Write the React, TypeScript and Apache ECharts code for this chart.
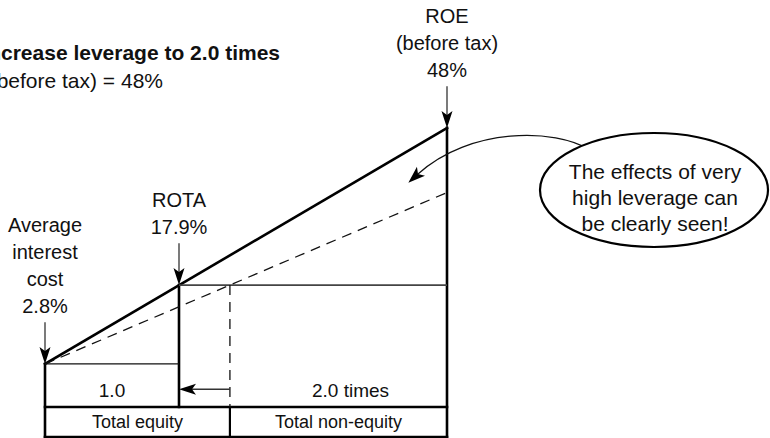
import React, { useEffect, useRef } from "react";
import * as echarts from "echarts";

// ---------- data ----------
const interestCost = 2.8; // % average interest cost
const rota = 17.9; // % return on total assets
const roeBeforeTax = 48; // % ROE before tax
const equityMultiple = 1.0; // total equity
const nonEquityMultiple = 2.0; // non-equity, times equity
const previousEquityShare = 1.38; // equity boundary before the increase (dashed)

const titleLines = ["Increase leverage to 2.0 times", "ROE (before tax) = 48%"];
const interestLabel = ["Average", "interest", "cost", "2.8%"];
const rotaLabel = ["ROTA", "17.9%"];
const roeLabel = ["ROE", "(before tax)", "48%"];
const boxLabels = ["Total equity", "Total non-equity"];
const multipleLabels = ["1.0", "2.0 times"];
const calloutLines = ["The effects of very", "high leverage can", "be clearly seen!"];

// ---------- layout constants (axis units) ----------
const Y_MIN = -11.2;
const Y_MAX = 72.5;
const BOX_TOP = -5.44;
const BOX_BOTTOM = Y_MIN;
const MID_ROW = -2.05;
const MID_LABEL = -2.2;
const BOX_LABEL = -8.33;
const ARROW_LEN = 8;
const FONT = "'Liberation Sans', Arial, Helvetica, sans-serif";

const total = equityMultiple * (1 + nonEquityMultiple);
const dashedEnd =
  interestCost + ((rota - interestCost) * total) / previousEquityShare;

type Seg = { a: number[]; b: number[]; kind: string };
const segments: Seg[] = [
  { a: [0, interestCost], b: [total, roeBeforeTax], kind: "thick" },
  { a: [0, interestCost], b: [0, BOX_BOTTOM], kind: "thick" },
  { a: [equityMultiple, rota], b: [equityMultiple, BOX_TOP], kind: "thick" },
  { a: [total, roeBeforeTax], b: [total, BOX_BOTTOM], kind: "thick" },
  { a: [0, BOX_TOP], b: [total, BOX_TOP], kind: "thick" },
  { a: [0, BOX_BOTTOM], b: [total, BOX_BOTTOM], kind: "thick" },
  { a: [previousEquityShare, BOX_TOP], b: [previousEquityShare, BOX_BOTTOM], kind: "mid" },
  { a: [0, interestCost], b: [equityMultiple, interestCost], kind: "thin" },
  { a: [equityMultiple, rota], b: [total, rota], kind: "gray" },
  { a: [0, interestCost], b: [total, dashedEnd], kind: "dashed" },
  { a: [previousEquityShare, rota], b: [previousEquityShare, BOX_TOP], kind: "dashed" },
];

const segStyles: Record<string, any> = {
  thick: { stroke: "#000", lineWidth: 2.6, lineCap: "square" },
  mid: { stroke: "#000", lineWidth: 2.2 },
  thin: { stroke: "#111", lineWidth: 1.4 },
  gray: { stroke: "#444", lineWidth: 1.8 },
  dashed: { stroke: "#111", lineWidth: 1.3, lineDash: [10, 7] },
};

const arrows: number[][] = [
  [0, interestCost + ARROW_LEN, 0, interestCost],
  [equityMultiple, rota + ARROW_LEN, equityMultiple, rota],
  [total, roeBeforeTax + ARROW_LEN, total, roeBeforeTax],
  [previousEquityShare, MID_ROW, equityMultiple, MID_ROW],
];

type Lbl = { x: number; y: number; lines: string[]; size: number; valign: string; dy: number };
const labels: Lbl[] = [
  { x: 0, y: interestCost + ARROW_LEN, lines: interestLabel, size: 20, valign: "bottom", dy: -3 },
  { x: equityMultiple, y: rota + ARROW_LEN, lines: rotaLabel, size: 20, valign: "bottom", dy: -3 },
  { x: total, y: roeBeforeTax + ARROW_LEN, lines: roeLabel, size: 20, valign: "bottom", dy: -3 },
  { x: equityMultiple / 2, y: MID_LABEL, lines: [multipleLabels[0]], size: 19, valign: "middle", dy: 0 },
  { x: 2.28, y: MID_LABEL, lines: [multipleLabels[1]], size: 19, valign: "middle", dy: 0 },
  { x: previousEquityShare / 2, y: BOX_LABEL, lines: [boxLabels[0]], size: 18, valign: "middle", dy: 0 },
  { x: (previousEquityShare + total) / 2, y: BOX_LABEL, lines: [boxLabels[1]], size: 18, valign: "middle", dy: 0 },
];

function arrowHead(tip: number[], ux: number, uy: number, L = 17, W = 5.5, notch = 4) {
  const bx = tip[0] - ux * L;
  const by = tip[1] - uy * L;
  const nx = -uy;
  const ny = ux;
  return [
    [tip[0], tip[1]],
    [bx + nx * W, by + ny * W],
    [tip[0] - ux * (L - notch), tip[1] - uy * (L - notch)],
    [bx - nx * W, by - ny * W],
  ];
}

export default function App() {
  const ref = useRef<HTMLDivElement>(null);
  useEffect(() => {
    document.body.style.margin = "0";
    const chart = echarts.init(ref.current!, null, { renderer: "svg" });

    // curved callout arrow
    const P0 = [590, 150];
    const C1 = [555, 128];
    const C2 = [470, 127];
    const P3 = [418, 174];
    const dx = P3[0] - C2[0];
    const dy = P3[1] - C2[1];
    const dl = Math.hypot(dx, dy);
    const ux = dx / dl;
    const uy = dy / dl;
    const tip = [P3[0] + ux * 13, P3[1] + uy * 13];

    chart.setOption({
      animation: false,
      grid: { left: 45, width: 402, top: 0, height: 437 },
      xAxis: { type: "value", min: 0, max: total, show: false },
      yAxis: { type: "value", min: Y_MIN, max: Y_MAX, show: false },
      series: [
        {
          type: "custom",
          clip: false,
          data: segments.map((s) => [s.a[0], s.a[1], s.b[0], s.b[1]]),
          renderItem: (params: any, api: any) => {
            const s = segments[params.dataIndex];
            const p1 = api.coord([api.value(0), api.value(1)]);
            const p2 = api.coord([api.value(2), api.value(3)]);
            return {
              type: "line",
              shape: { x1: p1[0], y1: p1[1], x2: p2[0], y2: p2[1] },
              style: { ...segStyles[s.kind], fill: null },
            };
          },
        },
        {
          type: "custom",
          clip: false,
          data: arrows,
          renderItem: (params: any, api: any) => {
            const p1 = api.coord([api.value(0), api.value(1)]);
            const p2 = api.coord([api.value(2), api.value(3)]);
            const ddx = p2[0] - p1[0];
            const ddy = p2[1] - p1[1];
            const l = Math.hypot(ddx, ddy);
            const vx = ddx / l;
            const vy = ddy / l;
            return {
              type: "group",
              children: [
                {
                  type: "line",
                  shape: { x1: p1[0], y1: p1[1], x2: p2[0] - vx * 12, y2: p2[1] - vy * 12 },
                  style: { stroke: "#333", lineWidth: 1.3 },
                },
                {
                  type: "polygon",
                  shape: { points: arrowHead(p2, vx, vy) },
                  style: { fill: "#000" },
                },
              ],
            };
          },
        },
        {
          type: "custom",
          clip: false,
          data: labels.map((l) => [l.x, l.y]),
          renderItem: (params: any, api: any) => {
            const l = labels[params.dataIndex];
            const p = api.coord([api.value(0), api.value(1)]);
            return {
              type: "text",
              x: p[0],
              y: p[1] + l.dy,
              style: {
                text: l.lines.join("\n"),
                fontSize: l.size,
                fontFamily: FONT,
                fill: "#111",
                align: "center",
                verticalAlign: l.valign,
                lineHeight: 27,
              },
            };
          },
        },
      ],
      graphic: [
        {
          type: "text",
          x: 280,
          y: 52,
          style: {
            text: titleLines[0],
            fontSize: 21,
            fontWeight: "bold",
            fontFamily: FONT,
            fill: "#111",
            align: "right",
            verticalAlign: "middle",
          },
        },
        {
          type: "text",
          x: 163,
          y: 80,
          style: {
            text: titleLines[1],
            fontSize: 21,
            fontFamily: FONT,
            fill: "#111",
            align: "right",
            verticalAlign: "middle",
          },
        },
        {
          type: "bezierCurve",
          z: 5,
          shape: {
            x1: P0[0], y1: P0[1], cpx1: C1[0], cpy1: C1[1],
            cpx2: C2[0], cpy2: C2[1], x2: P3[0], y2: P3[1],
          },
          style: { stroke: "#111", lineWidth: 1.3, fill: null },
        },
        {
          type: "polygon",
          z: 5,
          shape: { points: arrowHead(tip, ux, uy, 17, 6, 4) },
          style: { fill: "#000" },
        },
        {
          type: "ellipse",
          z: 6,
          shape: { cx: 654, cy: 190, rx: 114, ry: 57 },
          style: { fill: "#fff", stroke: "#000", lineWidth: 2.2 },
        },
        {
          type: "text",
          z: 7,
          x: 655,
          y: 197,
          style: {
            text: calloutLines.join("\n"),
            fontSize: 21,
            fontFamily: FONT,
            fill: "#111",
            align: "center",
            verticalAlign: "middle",
            lineHeight: 26,
          },
        },
      ],
    });
    return () => chart.dispose();
  }, []);
  return <div ref={ref} style={{ width: 770, height: 438 }} />;
}
